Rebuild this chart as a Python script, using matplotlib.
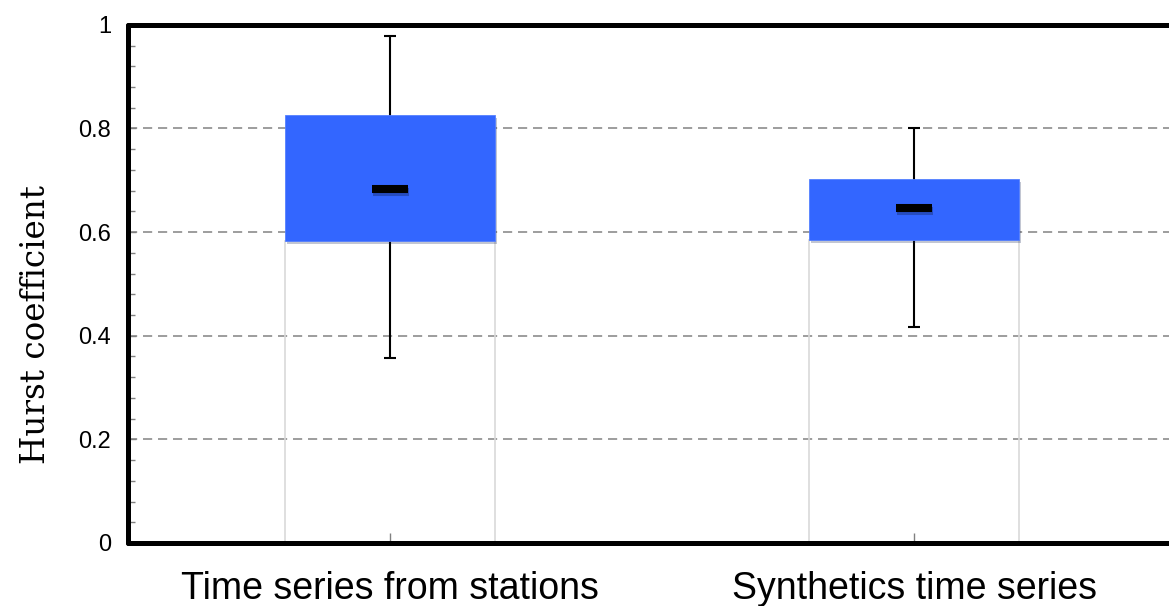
import matplotlib.pyplot as plt
import matplotlib.patheffects as pe
from matplotlib.ticker import MultipleLocator, FuncFormatter

categories = ["Time series from stations", "Synthetics time series"]
q1 = [0.583, 0.585]
median = [0.683, 0.647]
q3 = [0.826, 0.703]
whisker_low = [0.357, 0.417]
whisker_high = [0.979, 0.801]

fig = plt.figure(figsize=(11.69, 6.06), dpi=100)
ax = fig.add_axes([0.1095, 0.104, 0.8965, 0.855])

x = list(range(len(categories)))
shadow = [pe.SimplePatchShadow(offset=(1.5, -2.5), alpha=0.25), pe.Normal()]

# lower invisible part of the stack (0 -> Q1)
ax.bar(x, q1, width=0.4, facecolor='none', edgecolor='#d9d9d9', linewidth=1.2, zorder=1)

# whiskers behind the box
lo = [m - w for m, w in zip(median, whisker_low)]
hi = [w - m for m, w in zip(median, whisker_high)]
ax.errorbar(x, median, yerr=[lo, hi], fmt='none', ecolor='black',
            elinewidth=1.5, capsize=4.3, capthick=1.5, zorder=1.5)

# box Q1 -> Q3
heights = [b - a for a, b in zip(q1, q3)]
boxes = ax.bar(x, heights, bottom=q1, width=0.4, color='#3366ff',
               edgecolor='#5580ff', linewidth=0.6, zorder=2)
for b in boxes:
    b.set_path_effects(shadow)

# median marker
ax.plot(x, median, linestyle='none', marker='_', markersize=26,
        markeredgewidth=5.8, color='black', zorder=3,
        path_effects=[pe.SimpleLineShadow(offset=(1, -2), alpha=0.25), pe.Normal()])

ax.set_xlim(-0.5, 1.5)
ax.set_ylim(0, 1)
ax.set_xticks(x)
ax.set_xticklabels(categories, fontsize=27, family='Liberation Sans')
ax.yaxis.set_major_locator(MultipleLocator(0.2))
ax.yaxis.set_minor_locator(MultipleLocator(0.04))
ax.yaxis.set_major_formatter(FuncFormatter(lambda v, p: '%g' % round(v, 2)))
for lab in ax.get_yticklabels():
    lab.set_fontsize(17)
    lab.set_family('Liberation Sans')

ax.tick_params(axis='y', which='major', direction='in', length=6, width=1,
               color='#808080', pad=12)
ax.tick_params(axis='y', which='minor', direction='in', length=5, width=1,
               color='#808080')
ax.tick_params(axis='x', direction='in', length=7, width=1, color='#808080', pad=20)

ax.set_ylabel('Hurst coefficient', fontsize=23.5, family='DejaVu Serif')
ax.yaxis.set_label_coords(-0.073, 0.421)

ax.set_axisbelow(True)
ax.yaxis.grid(True, which='major', linestyle=(0, (5.5, 3.5)), linewidth=1.2, color='#8c8c8c')

for s in ['left', 'bottom', 'top', 'right']:
    ax.spines[s].set_linewidth(3.6)
    ax.spines[s].set_color('black')
    ax.spines[s].set_capstyle('round')

plt.savefig('out.png', dpi=100)
